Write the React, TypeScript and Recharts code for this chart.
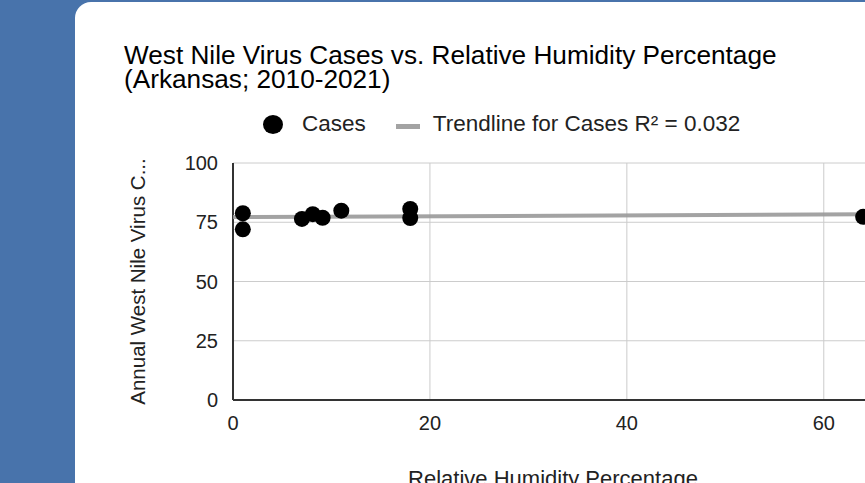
import React from "react";
import { ScatterChart, Scatter, XAxis, YAxis, CartesianGrid } from "recharts";

// humidity % (x) vs annual WNV cases (y)
const humidity = [1, 1, 7, 8.1, 9.1, 11, 18, 18, 64];
const cases = [78.8, 72.0, 76.4, 78.4, 76.9, 79.9, 80.6, 76.8, 77.3];
const xTicks = [0, 20, 40, 60];
const yTicks = [0, 25, 50, 75, 100];
const xDomain = [0, 65];

const FONT = "'Liberation Sans', Arial, sans-serif";

const points = humidity.map((x, i) => ({ x, y: cases[i] }));

// least squares trendline from the points
const n = points.length;
const mx = humidity.reduce((a, b) => a + b, 0) / n;
const my = cases.reduce((a, b) => a + b, 0) / n;
let sxy = 0;
let sxx = 0;
points.forEach((p) => {
  sxy += (p.x - mx) * (p.y - my);
  sxx += (p.x - mx) * (p.x - mx);
});
const slope = sxy / sxx;
const intercept = my - slope * mx;
const trend = xDomain.map((x) => ({ x, y: intercept + slope * x }));

const Dot = (props: any) => <circle cx={props.cx} cy={props.cy} r={8} fill="#000" />;

export default function App() {
  return (
    <div
      style={{
        position: "fixed",
        left: 0,
        top: 0,
        width: 865,
        height: 483,
        overflow: "hidden",
        background: "#4873ab",
        fontFamily: FONT,
      }}
    >
      <div
        style={{
          position: "absolute",
          left: 75,
          top: 2,
          width: 900,
          height: 600,
          background: "#fff",
          borderRadius: 16,
        }}
      />
      <div
        style={{
          position: "absolute",
          left: 124,
          top: 43,
          fontSize: 26.2,
          lineHeight: "24px",
          color: "#000",
          whiteSpace: "nowrap",
        }}
      >
        West Nile Virus Cases vs. Relative Humidity Percentage
        <br />
        (Arkansas; 2010-2021)
      </div>

      {/* legend */}
      <div style={{ position: "absolute", left: 263, top: 112, height: 24, display: "flex", alignItems: "center", fontSize: 22.5, color: "#222", whiteSpace: "nowrap" }}>
        <span style={{ width: 20, height: 19, borderRadius: "50%", background: "#000", display: "inline-block" }} />
        <span style={{ marginLeft: 19 }}>Cases</span>
        <span style={{ width: 24, height: 5, background: "#a3a3a3", display: "inline-block", marginLeft: 30, marginTop: 5 }} />
        <span style={{ marginLeft: 13 }}>Trendline for Cases R² = 0.032</span>
      </div>

      <div style={{ position: "absolute", left: 0, top: 0 }}>
        <ScatterChart width={900} height={520} margin={{ top: 163, right: 27, bottom: 90, left: 173 }}>
          <CartesianGrid stroke="#cccccc" strokeWidth={1} />
          <XAxis
            type="number"
            dataKey="x"
            domain={xDomain}
            ticks={xTicks}
            allowDataOverflow
            height={30}
            axisLine={{ stroke: "#333", strokeWidth: 2 }}
            tickLine={false}
            tickSize={6}
            tickMargin={10}
            tick={{ fontSize: 20, fill: "#222", fontFamily: FONT }}
            label={{
              content: (p: any) => (
                <text
                  x={p.viewBox.x + p.viewBox.width / 2}
                  y={p.viewBox.y + 86}
                  textAnchor="middle"
                  fontSize={22}
                  fill="#222"
                  fontFamily={FONT}
                >
                  Relative Humidity Percentage
                </text>
              ),
            }}
          />
          <YAxis
            type="number"
            dataKey="y"
            domain={[0, 100]}
            ticks={yTicks}
            width={60}
            axisLine={{ stroke: "#333", strokeWidth: 2 }}
            tickLine={false}
            tickSize={6}
            tickMargin={9}
            tick={{ fontSize: 20, fill: "#222", fontFamily: FONT }}
            label={{
              content: (p: any) => {
                const cx = p.viewBox.x - 36;
                const cy = p.viewBox.y + p.viewBox.height / 2;
                return (
                  <text
                    x={cx}
                    y={cy}
                    transform={`rotate(-90 ${cx} ${cy})`}
                    textAnchor="middle"
                    dominantBaseline="central"
                    fontSize={20.5}
                    fill="#222"
                    fontFamily={FONT}
                  >
                    Annual West Nile Virus C...
                  </text>
                );
              },
            }}
          />
          <Scatter
            data={trend}
            line={{ stroke: "#999", strokeWidth: 4, strokeOpacity: 0.9 }}
            shape={() => null}
            isAnimationActive={false}
          />
          <Scatter data={points} shape={Dot} isAnimationActive={false} />
        </ScatterChart>
      </div>
    </div>
  );
}
